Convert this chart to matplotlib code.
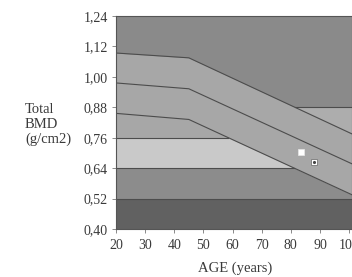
import numpy as np
import matplotlib
matplotlib.use("Agg")
from matplotlib import pyplot as plt

plt.rcParams['font.family'] = ['Liberation Serif', 'DejaVu Serif']

# reference curves (age-matched)
ages = np.array([20, 45, 101])
upper = np.array([1.094, 1.075, 0.775])
mean = np.array([0.976, 0.953, 0.657])
lower = np.array([0.856, 0.832, 0.535])

# horizontal band limits
band_edges = [0.40, 0.52, 0.64, 0.76, 0.88, 1.24]

# patient measurements
pt_age = [83.4, 88.1]
pt_bmd = [0.703, 0.663]

yticks = [0.40, 0.52, 0.64, 0.76, 0.88, 1.00, 1.12, 1.24]
xticks = [20, 30, 40, 50, 60, 70, 80, 90, 100]

c_dark = '#8a8a8a'
c_mid = '#a7a7a7'
c_mid2 = '#adadad'
c_light = '#c9c9c9'
c_low = '#8c8c8c'
c_bottom = '#616161'
c_line = '#4c4c4c'
c_text = '#3a3a3a'

fig = plt.figure(figsize=(3.52, 2.77), dpi=100)
ax = fig.add_axes([116/352, 48/277, 236/352, 213/277])
ax.set_facecolor(c_mid)

x0, x1 = ages[0], ages[-1]
ax.fill_between([x0, x1], band_edges[1], band_edges[2], color=c_low, lw=0)
ax.fill_between([x0, x1], band_edges[2], band_edges[3], color=c_light, lw=0)
ax.fill_between(ages, lower, band_edges[-1], color=c_mid, lw=0)
ax.fill_between([x0, x1], band_edges[0], band_edges[1], color=c_bottom, lw=0)
ax.fill_between(ages, upper, band_edges[-1], color=c_dark, lw=0)
ax.fill_between(ages, upper, band_edges[4], where=upper < band_edges[4],
                interpolate=True, color=c_mid2, lw=0)


def cross(vals, level):
    # age where a curve falls through a level
    return np.interp(level, vals[::-1], ages[::-1])


for v in (upper, mean, lower):
    ax.plot(ages, v, color=c_line, lw=0.8)

ax.plot([x0, x1], [band_edges[1]] * 2, color=c_line, lw=0.8)
ax.plot([x0, cross(lower, band_edges[2])], [band_edges[2]] * 2, color=c_line, lw=0.8)
ax.plot([x0, cross(lower, band_edges[3])], [band_edges[3]] * 2, color=c_line, lw=0.8)
ax.plot([cross(upper, band_edges[4]), x1], [band_edges[4]] * 2, color=c_line, lw=0.8)

# patient points
ax.plot(pt_age[0], pt_bmd[0], 's', ms=4.5, mfc='white', mec='#e8e8e8', mew=0.5)
ax.plot(pt_age[1], pt_bmd[1], 's', ms=4.5, mfc='white', mec='#777777', mew=0.6)
ax.plot(pt_age[1], pt_bmd[1], '.', ms=2.5, color='#444444')

ax.set_xlim(x0, x1)
ax.set_ylim(band_edges[0], band_edges[-1])
ax.set_xticks(xticks)
ax.set_yticks(yticks)
ax.set_yticklabels([f"{t:.2f}".replace('.', ',') for t in yticks])
ax.tick_params(direction='out', length=3, width=0.6, color='#777777',
               labelsize=10, labelcolor=c_text, pad=3)
ax.tick_params(axis='x', pad=4)
for s in ax.spines.values():
    s.set_color('#555555')
    s.set_linewidth(0.8)

fig.text(25/352, 0.55, "Total\nBMD\n(g/cm2)", ha='left', va='center',
         fontsize=10.5, color=c_text, linespacing=1.15)
fig.text(235/352, 0.033, "AGE (years)", ha='center', va='center',
         fontsize=10.5, color=c_text)

fig.savefig("out.png", dpi=100)
